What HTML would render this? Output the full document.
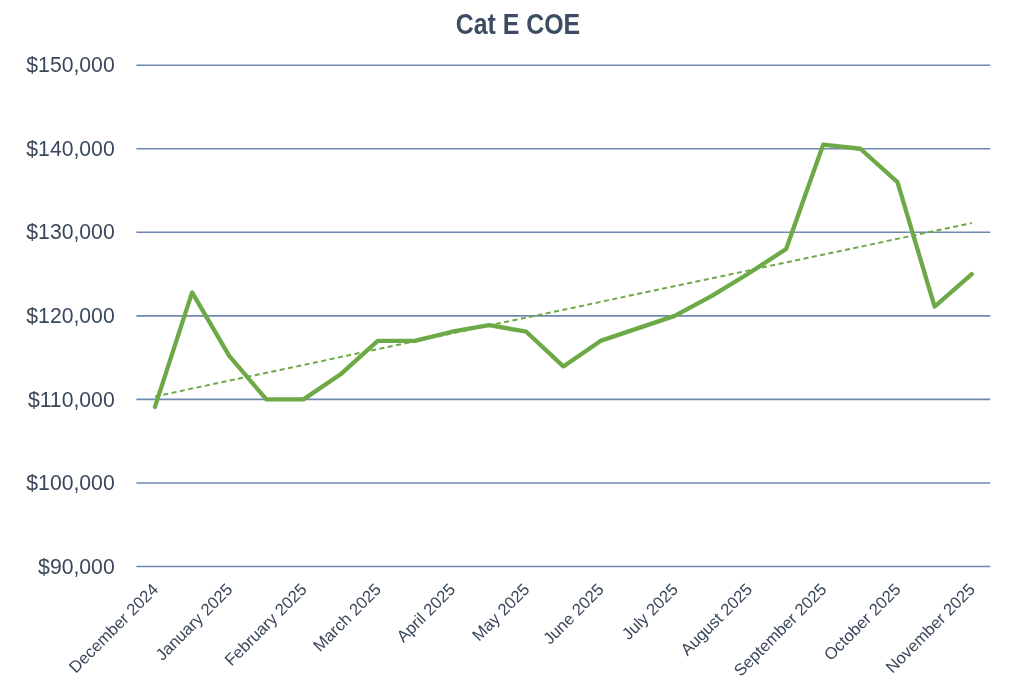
<!DOCTYPE html>
<html><head><meta charset="utf-8"><style>
html,body{margin:0;padding:0;background:#fff;width:1024px;height:683px;overflow:hidden}
svg{display:block;will-change:transform}
text{font-family:"Liberation Sans",sans-serif;fill:#3a475b}
.yl{font-size:21.2px}
.xl{font-size:16.6px}
.tt{font-size:28.6px;font-weight:bold;fill:#3e4c63}
</style></head><body>
<svg width="1024" height="683" viewBox="0 0 1024 683">
<rect width="1024" height="683" fill="#fff"/>
<line x1="136.4" y1="566.50" x2="990.3" y2="566.50" stroke="#6f88b0" stroke-width="1.6"/>
<line x1="136.4" y1="482.95" x2="990.3" y2="482.95" stroke="#6f88b0" stroke-width="1.6"/>
<line x1="136.4" y1="399.40" x2="990.3" y2="399.40" stroke="#6f88b0" stroke-width="1.6"/>
<line x1="136.4" y1="315.85" x2="990.3" y2="315.85" stroke="#6f88b0" stroke-width="1.6"/>
<line x1="136.4" y1="232.30" x2="990.3" y2="232.30" stroke="#6f88b0" stroke-width="1.6"/>
<line x1="136.4" y1="148.75" x2="990.3" y2="148.75" stroke="#6f88b0" stroke-width="1.6"/>
<line x1="136.4" y1="65.20" x2="990.3" y2="65.20" stroke="#6f88b0" stroke-width="1.6"/>
<text x="114.7" y="573.60" text-anchor="end" class="yl">$90,000</text>
<text x="114.7" y="490.05" text-anchor="end" class="yl">$100,000</text>
<text x="114.7" y="406.50" text-anchor="end" class="yl">$110,000</text>
<text x="114.7" y="322.95" text-anchor="end" class="yl">$120,000</text>
<text x="114.7" y="239.40" text-anchor="end" class="yl">$130,000</text>
<text x="114.7" y="155.85" text-anchor="end" class="yl">$140,000</text>
<text x="114.7" y="72.30" text-anchor="end" class="yl">$150,000</text>
<line x1="154.96" y1="396.45" x2="971.74" y2="223.08" stroke="#6da946" stroke-width="2" stroke-dasharray="5 3.5"/>
<polyline points="154.96,406.92 192.09,292.46 229.22,355.95 266.34,399.40 303.47,399.40 340.59,374.34 377.72,340.91 414.85,340.91 451.97,331.72 489.10,325.04 526.22,331.72 563.35,366.40 600.48,340.91 637.60,328.38 674.73,315.85 711.85,295.80 748.98,273.24 786.11,249.01 823.23,144.57 860.36,148.75 897.48,182.17 934.61,306.66 971.74,274.07" fill="none" stroke="#6da946" stroke-width="4.3" stroke-linejoin="round" stroke-linecap="round"/>
<text transform="translate(159.26,590.50) rotate(-45)" text-anchor="end" class="xl">December 2024</text>
<text transform="translate(233.52,590.50) rotate(-45)" text-anchor="end" class="xl">January 2025</text>
<text transform="translate(307.77,590.50) rotate(-45)" text-anchor="end" class="xl">February 2025</text>
<text transform="translate(382.02,590.50) rotate(-45)" text-anchor="end" class="xl">March 2025</text>
<text transform="translate(456.27,590.50) rotate(-45)" text-anchor="end" class="xl">April 2025</text>
<text transform="translate(530.52,590.50) rotate(-45)" text-anchor="end" class="xl">May 2025</text>
<text transform="translate(604.78,590.50) rotate(-45)" text-anchor="end" class="xl">June 2025</text>
<text transform="translate(679.03,590.50) rotate(-45)" text-anchor="end" class="xl">July 2025</text>
<text transform="translate(753.28,590.50) rotate(-45)" text-anchor="end" class="xl">August 2025</text>
<text transform="translate(827.53,590.50) rotate(-45)" text-anchor="end" class="xl">September 2025</text>
<text transform="translate(901.78,590.50) rotate(-45)" text-anchor="end" class="xl">October 2025</text>
<text transform="translate(976.04,590.50) rotate(-45)" text-anchor="end" class="xl">November 2025</text>
<text x="518" y="33.9" text-anchor="middle" class="tt" transform="translate(518,0) scale(0.87,1) translate(-518,0)">Cat E COE</text>
</svg>
</body></html>
